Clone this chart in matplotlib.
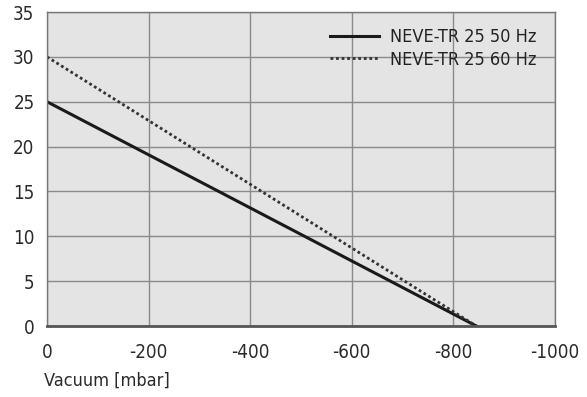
import matplotlib
matplotlib.use("Agg")
import matplotlib.pyplot as plt

vacuum = [0, -845]
flow_50hz = [25, 0]
flow_60hz = [30, 0]
labels = ["NEVE-TR 25 50 Hz", "NEVE-TR 25 60 Hz"]
xticks = [0, -200, -400, -600, -800, -1000]
yticks = [0, 5, 10, 15, 20, 25, 30, 35]

plt.rcParams['font.family'] = ['DejaVu Sans']
plt.rcParams['font.stretch'] = 'condensed'

fig = plt.figure(figsize=(5.87, 3.97), dpi=100)
ax = fig.add_axes([47/587, 71/397, 508/587, 314/397])
ax.set_facecolor("#e4e4e4")
ax.plot(vacuum, flow_50hz, color="#1a1a1a", lw=2.2, label=labels[0])
ax.plot(vacuum, flow_60hz, color="#333333", lw=2.0, ls=(0, (1, 1)), label=labels[1])
ax.set_xlim(0, -1000)
ax.set_ylim(0, 35)
ax.set_xticks(xticks)
ax.set_yticks(yticks)
ax.set_xticklabels([str(v) for v in xticks])
ax.grid(True, color="#8a8a8a", lw=1.0)
ax.set_axisbelow(True)
for s in ax.spines.values():
    s.set_color("#777777")
    s.set_linewidth(1.0)
ax.spines['bottom'].set_linewidth(2.0)
ax.spines['bottom'].set_color("#555555")
ax.tick_params(length=0, labelsize=13.5, colors="#2a2a2a")
ax.tick_params(axis='x', pad=12)
ax.tick_params(axis='y', pad=9)
ax.set_xlabel("Vacuum [mbar]", fontsize=13, color="#2a2a2a")
ax.xaxis.set_label_coords(-0.005, -0.145)
ax.xaxis.label.set_horizontalalignment('left')
leg = ax.legend(loc="upper right", frameon=False, fontsize=13, handlelength=2.7,
                borderaxespad=0.5, labelspacing=0.25, handletextpad=0.6,
                bbox_to_anchor=(0.995, 1.0))
for t in leg.get_texts():
    t.set_color("#222222")
fig.savefig("out.png", dpi=100)
